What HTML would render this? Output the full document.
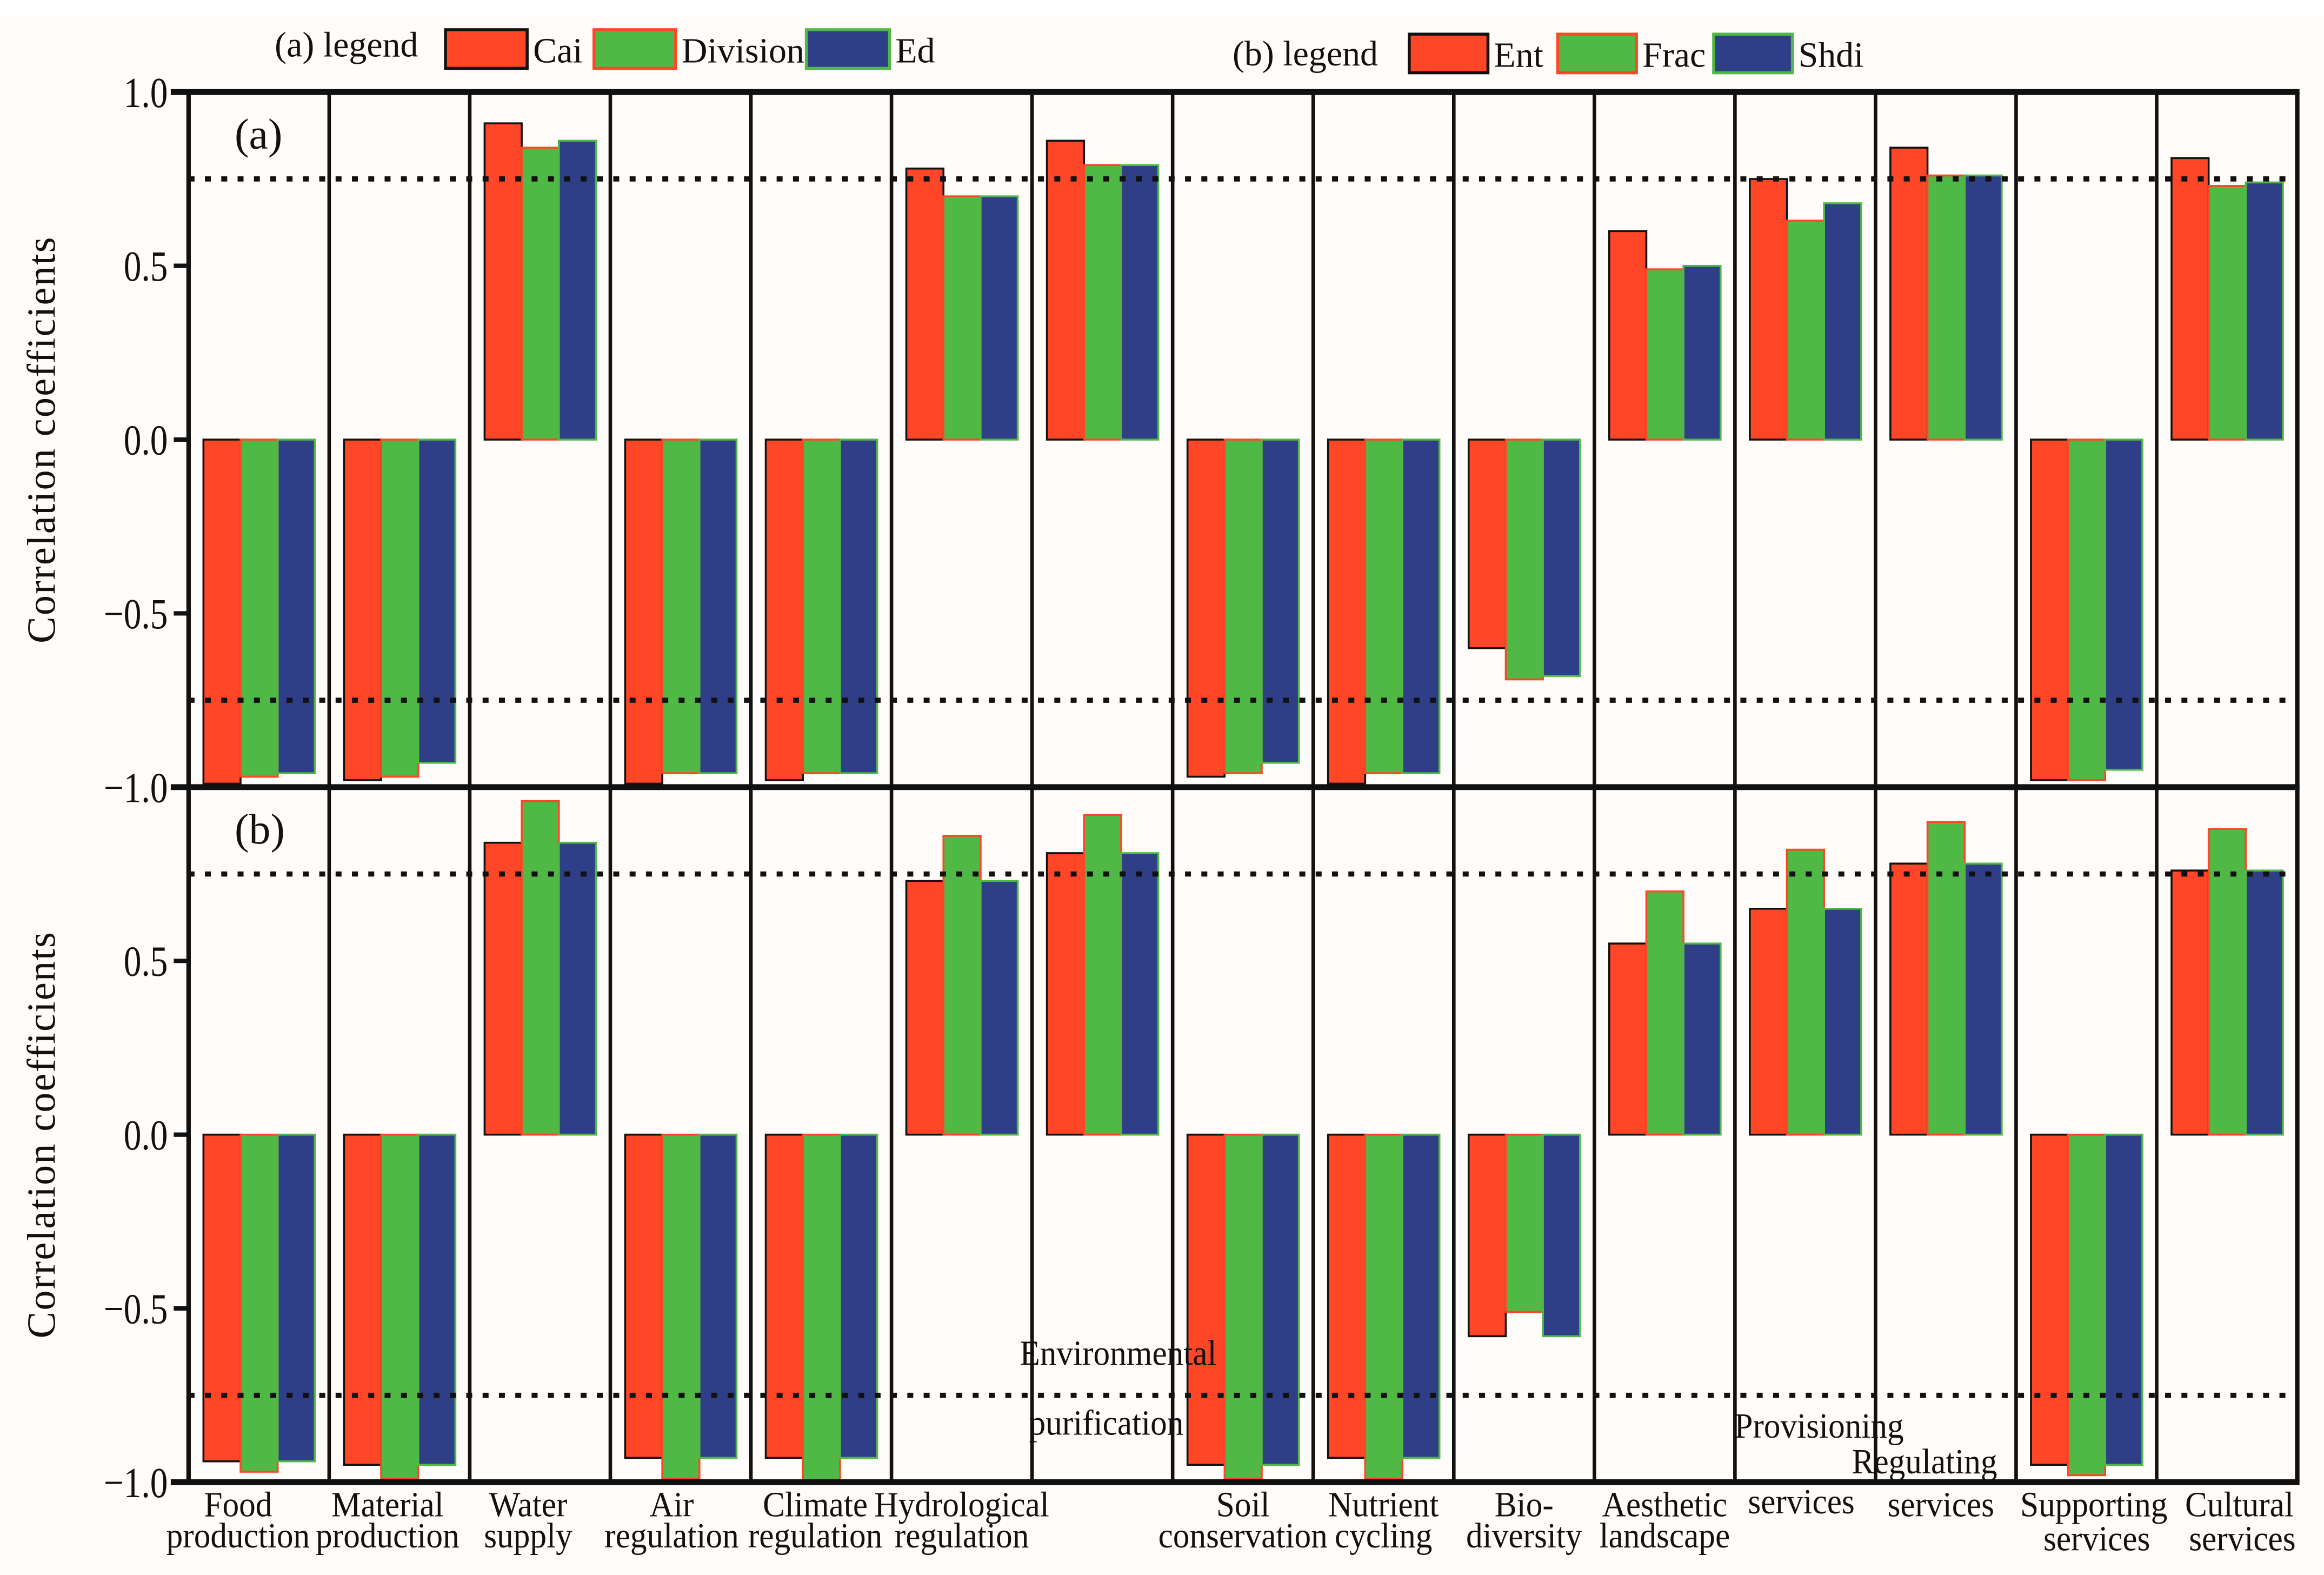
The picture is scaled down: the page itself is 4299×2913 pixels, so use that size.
<!DOCTYPE html>
<html><head><meta charset="utf-8"><style>
html,body{margin:0;padding:0;background:#fff;}
svg{display:block;}
text{font-family:"Liberation Serif","Times New Roman",serif;fill:#111;}
</style></head><body>
<svg id="chart" width="4299" height="2913" viewBox="0 0 1565 1060.5" preserveAspectRatio="none" xmlns="http://www.w3.org/2000/svg" font-family="Liberation Serif, serif">
<rect x="0" y="10" width="1565" height="1050" fill="#fffcfa"/>
<g id="layer"></g>
</svg>
<script>
const categories=[["Food","production"],["Material","production"],["Water","supply"],["Air","regulation"],["Climate","regulation"],["Hydrological","regulation"],["Environmental","purification"],["Soil","conservation"],["Nutrient","cycling"],["Bio-","diversity"],["Aesthetic","landscape"],["Provisioning","services"],["Regulating","services"],["Supporting","services"],["Cultural","services"]];
const seriesA=["Cai","Division","Ed"];
const seriesB=["Ent","Frac","Shdi"];
const cai=[-0.99,-0.98,0.91,-0.99,-0.98,0.78,0.86,-0.97,-0.99,-0.60,0.60,0.75,0.84,-0.98,0.81];
const division=[-0.97,-0.97,0.84,-0.96,-0.96,0.70,0.79,-0.96,-0.96,-0.69,0.49,0.63,0.76,-0.98,0.73];
const ed=[-0.96,-0.93,0.86,-0.96,-0.96,0.70,0.79,-0.93,-0.96,-0.68,0.50,0.68,0.76,-0.95,0.74];
const ent=[-0.94,-0.95,0.84,-0.93,-0.93,0.73,0.81,-0.95,-0.93,-0.58,0.55,0.65,0.78,-0.95,0.76];
const frac=[-0.97,-0.99,0.96,-0.99,-1.0,0.86,0.92,-0.99,-0.99,-0.51,0.70,0.82,0.90,-0.98,0.88];
const shdi=[-0.94,-0.95,0.84,-0.93,-0.93,0.73,0.81,-0.95,-0.93,-0.58,0.55,0.65,0.78,-0.95,0.76];
const yTicks=[1.0,0.5,0.0,-0.5,-1.0];
const yTickLabels=["1.0","0.5","0.0","\u22120.5","\u22121.0"];
const threshold=0.75;

const NS="http://www.w3.org/2000/svg";
const L=document.getElementById('layer');
const FF='"Liberation Serif", serif';
function mk(tag,attrs,parent){const e=document.createElementNS(NS,tag);for(const k in attrs)e.setAttribute(k,attrs[k]);if(tag==='text')e.setAttribute('font-family',FF);(parent||L).appendChild(e);return e;}
const X0=127,X1=1547,n=categories.length,cw=(X1-X0)/n;
const panels=[{top:62,bot:530,data:[cai,division,ed],label:"(a)",names:seriesA},{top:530,bot:998,data:[ent,frac,shdi],label:"(b)",names:seriesB}];
const fills=["#ff4626","#50b845","#2e3f88"],strokes=["#111","#ff4626","#50b845"];
function yScale(p,v){const mid=(p.top+p.bot)/2;return mid-v*(p.bot-p.top)/2;}
function xBand(i){return X0+i*cw;}

panels.forEach((p,pi)=>{
  const g=mk('g',{});
  
  
  p.data.forEach((arr,si)=>{
    arr.forEach((v,i)=>{
      const x=xBand(i)+10+si*25;
      const y0=yScale(p,0),y1=yScale(p,v);
      const r=mk('rect',{x:x,y:Math.min(y0,y1),width:25,height:Math.abs(y1-y0),fill:fills[si],stroke:strokes[si],'stroke-width':1.3},g);
      
      
    });
  });
  [threshold,-threshold].forEach(t=>{
    const ln=mk('line',{x1:X0,x2:X1,y1:yScale(p,t),y2:yScale(p,t),stroke:'#111','stroke-width':3.5,'stroke-dasharray':'4 7'},g);
    
    
  });
  for(let i=0;i<=n;i++){
    const s=mk('line',{x1:xBand(i),x2:xBand(i),y1:p.top,y2:p.bot,stroke:'#111','stroke-width':i==0||i==n?3:2.4},g);
    
    
  }
  yTicks.forEach((t,k)=>{
    const y=yScale(p,t);
    const tk=mk('line',{x1:X0-10,x2:X0,y1:y,y2:y,stroke:'#111','stroke-width':3},g);
    
    
    if(pi==1&&k==0)return;
    const tx=mk('text',{x:X0-14,y:y+10,'font-size':29,'text-anchor':'end',transform:'translate('+(X0-14)+',0) scale(0.82,1) translate('+(-(X0-14))+',0)'},g);
    tx.textContent=yTickLabels[k];
    
    
  });
  const pl=mk('text',{x:158,y:p.top+38,'font-size':29},g);
  pl.textContent=p.label;
  
  
  const yt=mk('text',{x:0,y:0,'font-size':27,'text-anchor':'middle',transform:'translate(37,'+((p.top+p.bot)/2)+') rotate(-90)','letter-spacing':'0.8'},g);
  yt.textContent="Correlation coefficients";
  
  
});
const hb=[62,530,998];
hb.forEach(y=>{const b=mk('line',{x1:X0-12,x2:X1+1.5,y1:y,y2:y,stroke:'#111','stroke-width':4});

});

const SX=0.93;
const xl=mk('g',{transform:'scale('+SX+',1)'});


const special={6:[[753,919],[745,966]],11:[[1225,968],[1213,1019]],12:[[1296,992],[1307,1021]],13:[[1410,1021],[1412,1044]],14:[[1508,1021],[1510,1044]]};
const nudge=[-14,-8,-8,-6,-4,0,0,0,0,0,0,0,0,0,0];
categories.forEach((c,i)=>{
  const cx=xBand(i)+cw/2+nudge[i];
  let pos=special[i]||[[cx,1021],[cx,1042]];
  c.forEach((w,j)=>{
    const t=mk('text',{x:pos[j][0]/SX,y:pos[j][1],'font-size':24,'text-anchor':'middle'},xl);
    t.textContent=w;
    
    
  });
});

function legend(title,tx,ty,items,names){
  const g=mk('g',{});
  
  
  const t=mk('text',{x:tx,y:ty,'font-size':24},g);t.textContent=title;
  
  
  items.forEach((it,k)=>{
    const r=mk('rect',{x:it[0],y:it[1],width:it[2],height:26,fill:fills[k],stroke:strokes[k],'stroke-width':2},g);
    
    
    const lt=mk('text',{x:it[0]+it[2]+4,y:it[1]+22,'font-size':24},g);lt.textContent=names[k];
    
    
  });
}
legend("(a) legend",185,38,[[300,20,55],[400,20,55],[543,20,56]],seriesA);
legend("(b) legend",830,44,[[949,23,53],[1049,23,53],[1154,23,53]],seriesB);
</script>
</body></html>
